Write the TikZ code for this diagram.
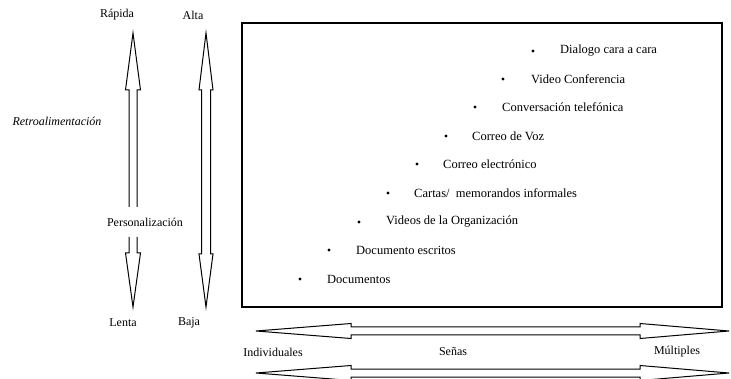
\documentclass[tikz,border=0pt]{standalone}
\usepackage{fontspec}
\setmainfont{Liberation Serif}
\begin{document}
\begin{tikzpicture}[x=1pt,y=-1pt,
  lbl/.style={inner sep=0pt,font=\fontsize{12}{14}\selectfont},
  item/.style={inner sep=0pt,anchor=west,font=\fontsize{12.5}{14}\selectfont},
  bul/.style={circle,fill=black,inner sep=0pt,minimum size=3.2pt},
  arr/.style={line width=1pt,line join=miter}]
\useasboundingbox (0,0) rectangle (731,379);
% frame
\draw[line width=1.1pt] (242,23) rectangle (722,307);
% vertical arrow 1 (split)
\draw[arr] (129,207) -- (129,90) -- (125.5,90) -- (133,33) -- (140.5,90) -- (137,90) -- (137,207);
\draw[arr] (129,237) -- (129,253) -- (125.5,253) -- (133,307) -- (140.5,253) -- (137,253) -- (137,237);
% vertical arrow 2
\draw[arr] (201.5,90) -- (199,90) -- (206,33) -- (213,90) -- (210.5,90) -- (210.5,254) -- (213,254) -- (206,307) -- (199,254) -- (201.5,254) -- cycle;
% horizontal arrows
\draw[arr] (351,327) -- (351,323.5) -- (256,331) -- (351,338.5) -- (351,335) -- (640,335) -- (640,338.5) -- (729,331) -- (640,323.5) -- (640,327) -- cycle;
\draw[arr] (351,369) -- (351,365.5) -- (256,373) -- (351,380.5) -- (351,377) -- (640,377) -- (640,380.5) -- (729,373) -- (640,365.5) -- (640,369) -- cycle;
% left labels
\node[lbl] (rapida) at (117,15) {Rápida};
\node[lbl] (alta) at (193,15) {Alta};
\node[lbl] (lenta) at (123,323) {Lenta};
\node[lbl] (baja) at (189,323) {Baja};
\node[lbl,font=\fontsize{12}{14}\selectfont\itshape] (retro) at (57,121) {Retroalimentación};
\node[lbl] (perso) at (145,222) {Personalización};
% bottom labels
\node[lbl] (indiv) at (273,352) {Individuales};
\node[lbl] (senas) at (453,352) {Señas};
\node[lbl] (mult) at (677,352) {Múltiples};
% items
\node[bul] (b1) at (533,51) {};  \node[item] (t1) at (560,51) {Dialogo cara a cara};
\node[bul] (b2) at (503,79) {};  \node[item] (t2) at (531,79) {Video Conferencia};
\node[bul] (b3) at (475,107) {}; \node[item] (t3) at (502,107) {Conversación telefónica};
\node[bul] (b4) at (446,136) {}; \node[item] (t4) at (472,136) {Correo de Voz};
\node[bul] (b5) at (417,164) {}; \node[item] (t5) at (443,164) {Correo electrónico};
\node[bul] (b6) at (388,193) {}; \node[item] (t6) at (414,193) {Cartas/\ \ memorandos informales};
\node[bul] (b7) at (359,222) {}; \node[item] (t7) at (386,222) {Videos de la Organización};
\node[bul] (b8) at (329,250) {}; \node[item] (t8) at (356,250) {Documento escritos};
\node[bul] (b9) at (300,279) {}; \node[item] (t9) at (327,279) {Documentos};
\end{tikzpicture}
\end{document}
